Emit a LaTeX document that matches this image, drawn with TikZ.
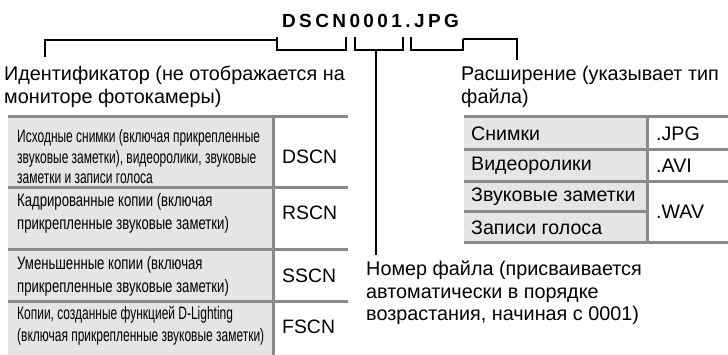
\documentclass[tikz,border=0pt]{standalone}
\usepackage{fontspec}
\setmainfont{Liberation Sans}
\newfontfamily\namefont{Liberation Sans Bold}
\newfontfamily\tightfont[FakeStretch=0.73]{Liberation Sans}
\newfontfamily\narrowfont[FakeStretch=0.665]{Liberation Sans}
\usetikzlibrary{positioning}

\definecolor{cellgray}{RGB}{229,229,229}
\definecolor{rulegray}{RGB}{138,138,138}
\newcommand{\ls}{\kern3.4pt}

\tikzset{
  note/.style={anchor=north west, inner sep=0pt, align=left,
    font=\fontsize{19.8}{22.5}\selectfont},
  fname/.style={anchor=base, inner sep=0pt,
    font=\namefont\fontsize{19}{22}\selectfont},
  bracket/.style={line width=1.8pt},
  rule/.style={rulegray, line width=3pt},
  cell/.style={anchor=west, inner sep=0pt, align=left},
  code/.style={anchor=west, inner sep=0pt, font=\fontsize{19.4}{22}\selectfont},
  ext/.style={anchor=west, inner sep=0pt, font=\fontsize{19.6}{22}\selectfont},
}

\begin{document}
\begin{tikzpicture}[x=1pt,y=-1pt]
\useasboundingbox (0,0) rectangle (728,355);

% File name
\node[fname] (fname) at (370.5,28) {D\ls S\ls C\ls N\ls 0\ls 0\ls 0\ls 1\ls .\ls J\ls P\ls G};

% Brackets under the name
\draw[bracket] (277,37) -- (277,50) -- (346,50) -- (346,37);
\draw[bracket] (355,37) -- (355,50) -- (403,50) -- (403,37);
\draw[bracket] (411,37) -- (411,50) -- (463,50) -- (463,39);
\coordinate (idtap) at (277,40);
\coordinate (idend) at (45,57);
\coordinate (numtap) at (376,50);
\coordinate (numend) at (376,255);
\coordinate (exttap) at (463,39);
\coordinate (extend) at (517,60);
\draw[bracket] (idtap) -| (idend);
\draw[bracket] (numtap) -- (numend);
\draw[bracket] (exttap) -| (extend);

% Notes
\node[note] (idnote) at (4,66) {Идентификатор (не отображается на\\мониторе фотокамеры)};
\node[note] (extnote) at (461,66) {Расширение (указывает тип\\файла)};
\node[note] (numnote) at (366,261) {Номер файла (присваивается\\автоматически в порядке\\возрастания, начиная с 0001)};

% Identifier table
\fill[cellgray] (8,117) rectangle (273,355);
\foreach \y in {117,188,250,302}
  \draw[rule] (8,\y) -- (348,\y);
\draw[rule] (273,117) -- (273,355);

\node[cell, font=\narrowfont\fontsize{18}{20.5}\selectfont] (orig) at (17,157)
  {Исходные снимки (включая прикрепленные\\звуковые заметки), видеоролики, звуковые\\заметки и записи голоса};
\node[code] (dscn) at (282,157) {DSCN};
\node[cell, font=\tightfont\fontsize{18}{23}\selectfont] (crop) at (17,213)
  {Кадрированные копии (включая\\прикрепленные звуковые заметки)};
\node[code] (rscn) at (282,213) {RSCN};
\node[cell, font=\tightfont\fontsize{18}{23}\selectfont] (small) at (17,276)
  {Уменьшенные копии (включая\\прикрепленные звуковые заметки)};
\node[code] (sscn) at (282,276) {SSCN};
\node[cell, font=\narrowfont\fontsize{18}{22}\selectfont] (dlight) at (17,326)
  {Копии, созданные функцией D-Lighting\\(включая прикрепленные звуковые заметки)};
\node[code] (fscn) at (282,327) {FSCN};

% Extension table
\fill[cellgray] (464,117) rectangle (647,243);
\foreach \y in {117,150,182,243}
  \draw[rule] (464,\y) -- (728,\y);
\draw[rule] (464,212) -- (647,212);
\draw[rule] (647,117) -- (647,243);

\node[ext] (stills) at (471,133.5) {Снимки};
\node[ext] (jpg) at (656,133.5) {.JPG};
\node[ext] (movies) at (471,166) {Видеоролики};
\node[ext] (avi) at (656,166) {.AVI};
\node[ext] (memos) at (471,197) {Звуковые заметки};
\node[ext] (voice) at (471,227.5) {Записи голоса};
\node[ext] (wav) at (656,212) {.WAV};

\end{tikzpicture}
\end{document}
